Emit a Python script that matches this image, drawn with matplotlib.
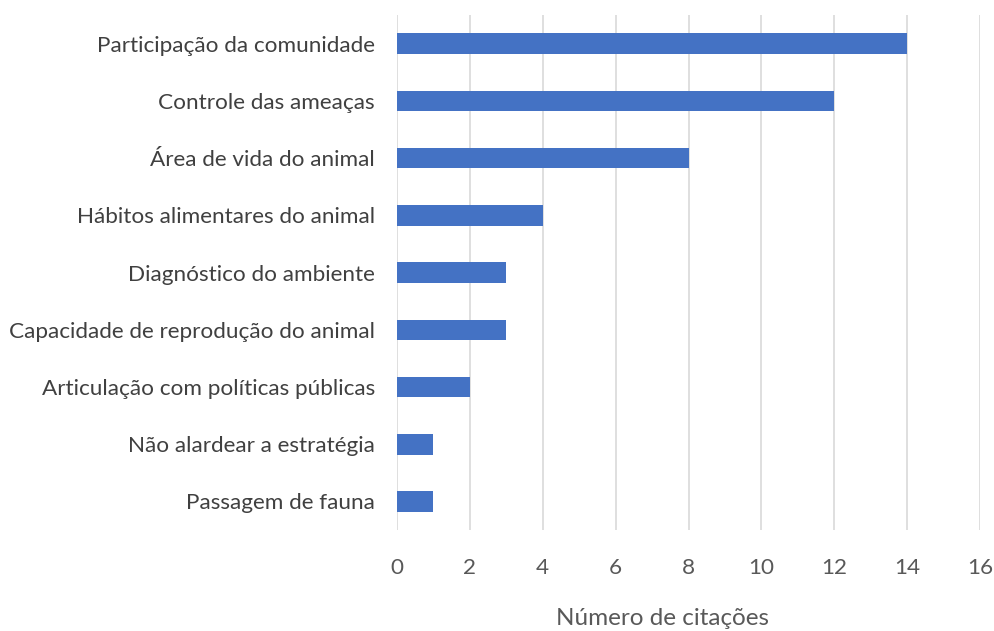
import matplotlib.pyplot as plt

categorias = [
    "Participação da comunidade",
    "Controle das ameaças",
    "Área de vida do animal",
    "Hábitos alimentares do animal",
    "Diagnóstico do ambiente",
    "Capacidade de reprodução do animal",
    "Articulação com políticas públicas",
    "Não alardear a estratégia",
    "Passagem de fauna",
]
citacoes = [14, 12, 8, 4, 3, 3, 2, 1, 1]
xticks = [0, 2, 4, 6, 8, 10, 12, 14, 16]

plt.rcParams['font.family'] = ['Lato', 'DejaVu Sans']

fig = plt.figure(figsize=(9.95, 6.31), dpi=100)
ax = fig.add_axes([0.399, 0.160, 0.586, 0.816])

pos = list(range(len(categorias)))[::-1]
ax.barh(pos, citacoes, height=0.36, color="#4472C4", zorder=3)

ax.set_yticks(pos)
ax.set_yticklabels(categorias, fontsize=16.2, color="#404040")
ax.set_ylim(-0.5, len(categorias) - 0.5)
ax.set_xlim(0, 16)
ax.set_xticks(xticks)
ax.set_xticklabels([str(t) for t in xticks], fontsize=16.2, color="#595959")
ax.xaxis.grid(True, color="#D9D9D9", linewidth=1.2, zorder=0)
ax.tick_params(axis="both", length=0)
ax.tick_params(axis="x", pad=20)
ax.tick_params(axis="y", pad=16)
for s in ax.spines.values():
    s.set_visible(False)

ax.set_xlabel("Número de citações", fontsize=17.5, color="#595959")
ax.xaxis.set_label_coords(0.455, -0.152)

fig.savefig("out.png", dpi=100)
